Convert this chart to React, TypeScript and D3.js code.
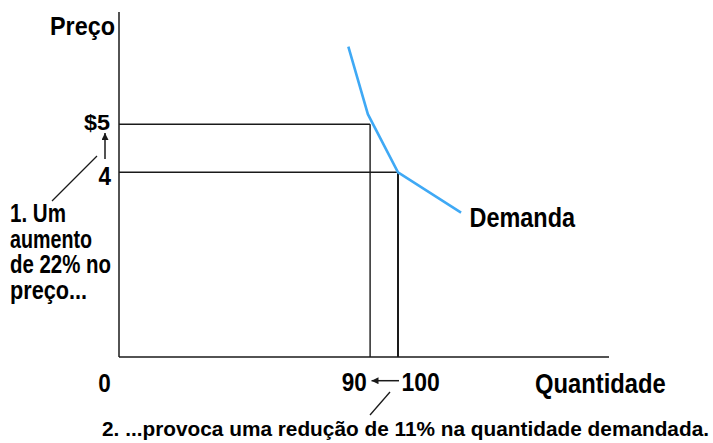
import React from "react";
import * as d3 from "d3";

const demandQty = [82.2, 89.2, 100, 122.6];
const demandPrice = [6.62, 5.21, 4, 3.16];
const pointQty = [90, 100];
const pointPrice = [5, 4];
const priceLabels = ["$5", "4"];
const qtyLabels = ["0", "90", "100"];
const note1Lines = ["1. Um", "aumento", "de 22% no", "preço..."];
const note1Widths = [56, 82, 101, 77];
const note2 = "2. ...provoca uma redução de 11% na quantidade demandada.";

const W = 713;
const H = 443;
const FONT = "'Liberation Sans', Arial, sans-serif";

type LabelProps = {
  x: number;
  y: number;
  size: number;
  width: number;
  anchor?: "start" | "end" | "middle";
  children: string;
};

function Label({ x, y, size, width, anchor = "start", children }: LabelProps) {
  const left = anchor === "start" ? x : anchor === "end" ? x - width : x - width / 2;
  return (
    <text
      x={left}
      y={y}
      fontSize={size}
      fontFamily={FONT}
      fontWeight={700}
      fill="#000"
      textLength={width}
      lengthAdjust="spacingAndGlyphs"
    >
      {children}
    </text>
  );
}

export default function App() {
  const x = d3.scaleLinear().domain([0, 100]).range([119, 398]);
  const y = d3.scaleLinear().domain([4, 5]).range([172.3, 124.3]);
  const axisTop = 12;
  const axisBottom = 357;
  const axisRight = 609;
  const line = d3
    .line<number>()
    .x((d) => x(demandQty[d]))
    .y((d) => y(demandPrice[d]));
  const idx = demandQty.map((_, i) => i);
  const ink = "#1a1a1a";

  return (
    <svg width={W} height={H} style={{ position: "absolute", left: 0, top: 0, background: "#fff" }}>
      <defs>
        <marker id="ah" viewBox="0 0 10 10" refX="10" refY="5" markerWidth="7" markerHeight="7" markerUnits="userSpaceOnUse" orient="auto">
          <path d="M0,0 L10,5 L0,10 z" fill={ink} />
        </marker>
      </defs>
      {/* axes */}
      <line x1={x(0)} x2={x(0)} y1={axisTop} y2={axisBottom} stroke={ink} strokeWidth={1.5} />
      <line x1={x(0)} x2={axisRight} y1={axisBottom} y2={axisBottom} stroke={ink} strokeWidth={1.5} />
      {/* guide lines */}
      {pointQty.map((q, i) => (
        <g key={i}>
          <line x1={x(0)} x2={x(q)} y1={y(pointPrice[i])} y2={y(pointPrice[i])} stroke={ink} strokeWidth={1.4} />
          <line x1={x(q)} x2={x(q)} y1={y(pointPrice[i])} y2={axisBottom} stroke={ink} strokeWidth={i === 1 ? 2 : 1.4} />
        </g>
      ))}
      {/* demand */}
      <path d={line(idx) || ""} fill="none" stroke="#3fa9f5" strokeWidth={2.6} />
      <Label x={469.5} y={226.7} size={28} width={105.5}>Demanda</Label>

      {/* axis titles */}
      <Label x={115} y={35} size={25} width={65} anchor="end">Preço</Label>
      <Label x={535} y={393.3} size={28} width={130.7}>Quantidade</Label>

      {/* price labels */}
      <Label x={110} y={y(5) + 6} size={22.5} width={26} anchor="end">{priceLabels[0]}</Label>
      <Label x={111} y={y(4) + 13} size={25.5} width={12.5} anchor="end">{priceLabels[1]}</Label>
      <line x1={105} x2={105} y1={159} y2={133} stroke={ink} strokeWidth={1.5} markerEnd="url(#ah)" />
      <line x1={97} y1={156} x2={52} y2={201} stroke={ink} strokeWidth={1.3} />

      {/* quantity labels */}
      <Label x={104.4} y={391.5} size={26} width={12.5} anchor="middle">{qtyLabels[0]}</Label>
      <Label x={x(90) - 3.3} y={391} size={26} width={25} anchor="end">{qtyLabels[1]}</Label>
      <Label x={x(100) + 3.5} y={391} size={26} width={38.3}>{qtyLabels[2]}</Label>
      <line x1={399} x2={371.5} y1={380.7} y2={380.7} stroke={ink} strokeWidth={1.5} markerEnd="url(#ah)" />
      <line x1={390} y1={392} x2={370} y2={415} stroke={ink} strokeWidth={1.3} />

      {/* annotations */}
      {note1Lines.map((t, i) => (
        <Label key={i} x={10} y={222 + i * 25.7} size={25} width={note1Widths[i]}>{t}</Label>
      ))}
      <Label x={102} y={436} size={21} width={607}>{note2}</Label>
    </svg>
  );
}
